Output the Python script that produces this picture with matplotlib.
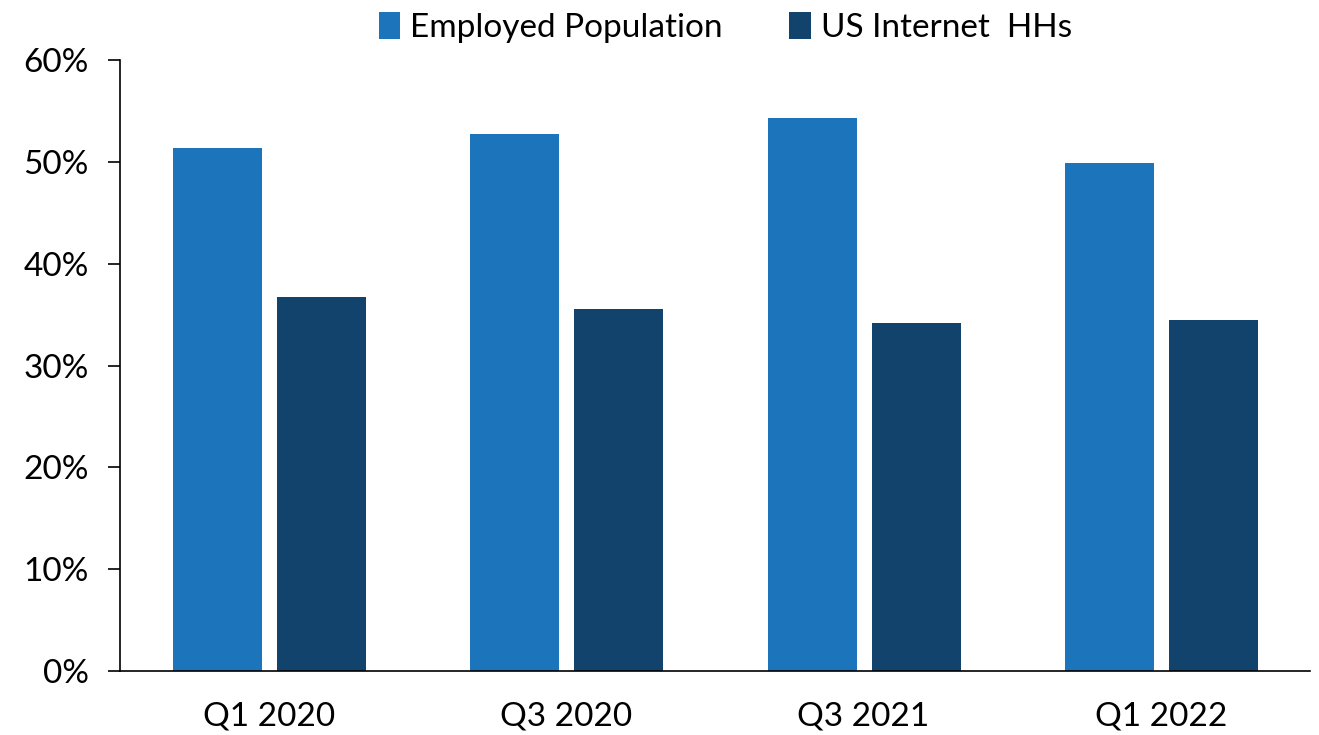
import matplotlib.pyplot as plt
import numpy as np

# share of group (%) by quarter
quarters = ["Q1 2020", "Q3 2020", "Q3 2021", "Q1 2022"]
employed = [51.4, 52.8, 54.3, 49.9]
internet_hhs = [36.7, 35.6, 34.2, 34.5]

plt.rcParams['font.family'] = ['Lato', 'DejaVu Sans']

fig = plt.figure(figsize=(13.19, 7.35), dpi=100)
ax = fig.add_axes([0.091, 0.087, 0.902, 0.831])

x = np.arange(len(quarters))
width = 0.30
ax.bar(x - 0.173, employed, width, color='#1c75bb', label='Employed Population')
ax.bar(x + 0.177, internet_hhs, width, color='#11436d', label='US Internet  HHs')

ax.set_xlim(-0.5, len(quarters) - 0.5)
ax.set_ylim(0, 60)
ax.set_yticks(range(0, 61, 10))
ax.set_yticklabels([f"{v}%" for v in range(0, 61, 10)])
ax.set_xticks(x)
ax.set_xticklabels(quarters)
ax.tick_params(axis='x', length=0, pad=22, labelsize=24)
ax.tick_params(axis='y', length=8.6, width=1.2, direction='out', pad=14, labelsize=24)

for side in ['top', 'right']:
    ax.spines[side].set_visible(False)
ax.spines['left'].set_linewidth(1.2)
ax.spines['bottom'].set_linewidth(1.2)

fig.legend(loc='upper center', bbox_to_anchor=(0.55, 1.025), ncol=2, frameon=False,
           fontsize=24, handlelength=0.65, handleheight=0.9, handletextpad=0.3,
           columnspacing=2.0)

fig.savefig('out.png', dpi=100)
